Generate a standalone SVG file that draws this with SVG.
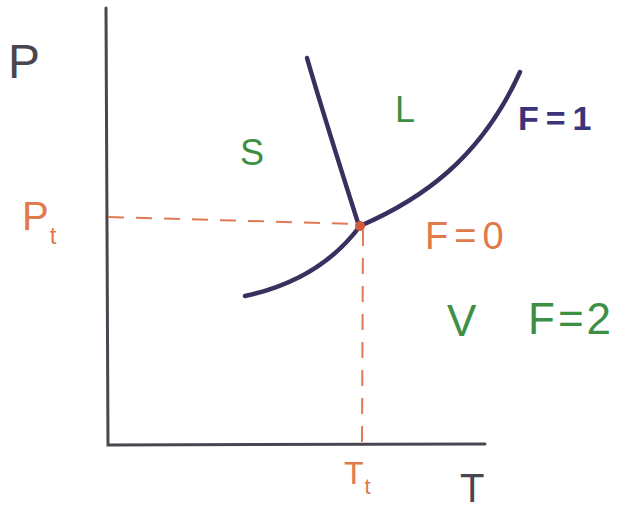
<svg xmlns="http://www.w3.org/2000/svg" width="637" height="510" viewBox="0 0 637 510">
<style>
.ax{stroke:#4a4650;stroke-width:3;fill:none;stroke-linecap:round}
.curve{stroke:#3a3060;stroke-width:4.5;fill:none;stroke-linecap:round}
.dash{stroke:#e07a55;stroke-width:2;fill:none;stroke-dasharray:16 12}
.t{font-family:"Liberation Sans",Arial,sans-serif}
.or{fill:#e07a4a}
.gr{fill:#3d8f45}
.bl{fill:#3a3478}
.dk{fill:#4a4650}
</style>
<rect width="637" height="510" fill="#ffffff"/>
<g id="axes">
<path class="ax" d="M106,8 L108,445 L485,444"/>
</g>
<g id="connectors">
<path class="dash" d="M108,217 L358,224"/>
<path class="dash" d="M363,230 L362,444"/>
<path id="fusion" class="curve" d="M307,58 Q322,110 359,226"/>
<path id="sublimation" class="curve" d="M245,296 Q320,280 360,226"/>
<path id="vaporization" class="curve" d="M360,226 C420,200 480,160 520,72"/>
</g>
<g id="triple-point">
<circle cx="360" cy="226" r="5" fill="#d05a40"/>
</g>
<g id="labels">
<text class="t dk" x="8" y="78" font-size="48">P</text>
<text class="t or" x="22" y="230" font-size="40">P<tspan font-size="24" dx="1" dy="14">t</tspan></text>
<text class="t gr" x="240" y="165" font-size="36">S</text>
<text class="t gr" x="395" y="122" font-size="36">L</text>
<text class="t bl" x="518" y="130" font-size="34" font-weight="bold" letter-spacing="7">F=1</text>
<text class="t or" x="425" y="249" font-size="38" letter-spacing="6">F=0</text>
<text class="t gr" x="447" y="336" font-size="44">V</text>
<text class="t gr" x="528" y="334" font-size="44" letter-spacing="3">F=2</text>
<text class="t or" x="344" y="484" font-size="32">T<tspan font-size="22" dx="1" dy="10">t</tspan></text>
<text class="t dk" x="460" y="502" font-size="40">T</text>
</g>
</svg>
